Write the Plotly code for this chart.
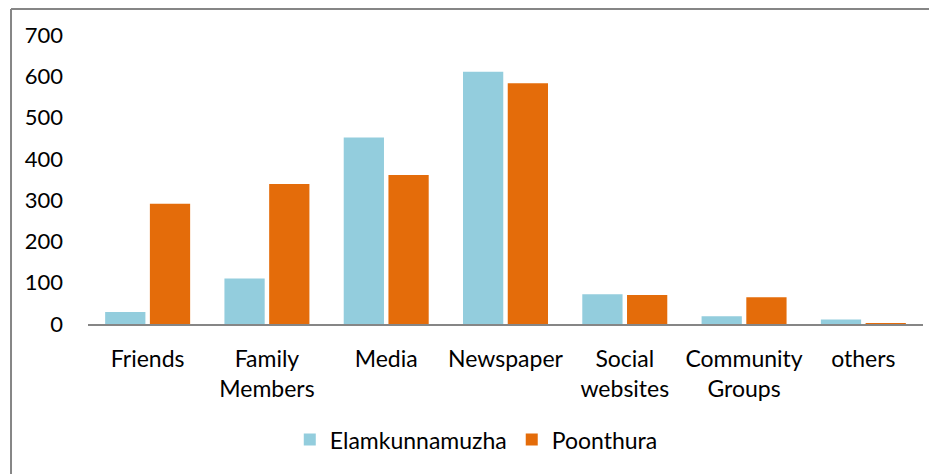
"""Source of information: Elamkunnamuzha vs Poonthura, clustered bars."""

import plotly.graph_objects as go

categories = ["Friends", "Family<br>Members", "Media", "Newspaper",
              "Social<br>websites", "Community<br>Groups", "others"]
elamkunnamuzha = [29, 110, 452, 611, 72, 19, 11]
poonthura = [291, 339, 361, 583, 70, 65, 2]
y_ticks = [0, 100, 200, 300, 400, 500, 600, 700]

_COLOR_BLUE = "#93CDDD"
_COLOR_ORANGE = "#E46C0A"
_COLOR_AXIS = "#868686"
_FONT = "Lato, Carlito, 'Open Sans', sans-serif"

fig = go.Figure()
fig.add_trace(go.Bar(x=categories, y=elamkunnamuzha, name="Elamkunnamuzha",
                     marker=dict(color=_COLOR_BLUE, line=dict(width=0))))
fig.add_trace(go.Bar(x=categories, y=poonthura, name="Poonthura",
                     marker=dict(color=_COLOR_ORANGE, line=dict(width=0))))

# outer chart frame (only top and left edges visible in the crop)
frame = dict(type="line", xref="paper", yref="paper",
             line=dict(color=_COLOR_AXIS, width=2))
fig.add_shape(x0=-0.0922, y0=1.0900, x1=1.2, y1=1.0900, **frame)
fig.add_shape(x0=-0.0922, y0=1.0900, x1=-0.0922, y1=-0.7, **frame)

# the page body adds an 8px offset, so margins are trimmed by that amount
fig.update_layout(
    width=937, height=474,
    barmode="group", bargap=0.25, bargroupgap=0.1,
    paper_bgcolor="white", plot_bgcolor="white",
    margin=dict(l=80, r=22, t=27, b=158),
    font=dict(family=_FONT, size=22, color="#000000"),
    xaxis=dict(showline=True, linecolor=_COLOR_AXIS, linewidth=2,
               showgrid=False, ticks="", ticklabelstandoff=13,
               tickfont=dict(size=23)),
    yaxis=dict(range=[0, 700], tickvals=y_ticks, showgrid=False,
               zeroline=False, showline=False, ticks="",
               ticklabelstandoff=24, tickfont=dict(size=22)),
    legend=dict(orientation="h", x=0.465, xanchor="center", y=-0.40,
                yanchor="middle", font=dict(size=23), itemwidth=30,
                tracegroupgap=0),
)

fig.write_html("out.html")
